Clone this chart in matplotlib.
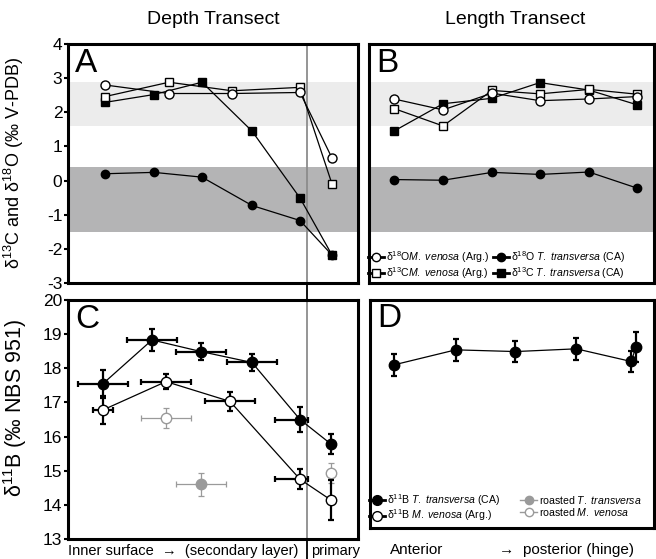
import matplotlib
matplotlib.use('Agg')
import matplotlib.pyplot as plt
from matplotlib.lines import Line2D

plt.rcParams['font.family'] = ['Liberation Sans', 'DejaVu Sans']
plt.rcParams['mathtext.fontset'] = 'custom'
plt.rcParams['mathtext.rm'] = 'Liberation Sans'
plt.rcParams['mathtext.it'] = 'Liberation Sans:italic'
plt.rcParams['axes.unicode_minus'] = False

# ---- panel A : depth transect, d18O / d13C ----
a_x_o18_mv = [37, 101, 164, 232, 264]
a_o18_mv = [2.80, 2.55, 2.55, 2.58, 0.66]
a_x_c13_mv = [37, 101, 164, 232, 264]
a_c13_mv = [2.46, 2.88, 2.63, 2.73, -0.10]
a_x_o18_tt = [37, 86, 134, 184, 232, 264]
a_o18_tt = [0.20, 0.24, 0.10, -0.73, -1.17, -2.18]
a_x_c13_tt = [37, 86, 134, 184, 232, 264]
a_c13_tt = [2.29, 2.52, 2.88, 1.45, -0.51, -2.18]
boundary_x = 239

# ---- panel B : length transect ----
b_x = [25, 74, 123, 171, 220, 268]
b_o18_mv = [2.39, 2.07, 2.56, 2.34, 2.39, 2.46]
b_c13_mv = [2.11, 1.60, 2.64, 2.54, 2.67, 2.53]
b_o18_tt = [0.03, 0.01, 0.24, 0.18, 0.25, -0.22]
b_c13_tt = [1.45, 2.25, 2.41, 2.87, 2.65, 2.22]

band_light = (1.6, 2.9)
band_dark = (-1.5, 0.4)

# ---- panel C : depth transect, d11B ----
c_x_tt = [35, 84, 133, 184, 232, 263]
c_tt = [17.55, 18.83, 18.49, 18.17, 16.50, 15.78]
c_tt_yerr = [0.41, 0.32, 0.26, 0.26, 0.38, 0.29]
c_tt_xerr_lo = [25, 25, 25, 25, 25, 3]
c_tt_xerr_hi = [25, 25, 25, 25, 8, 3]
c_x_mv = [35, 98, 162, 232, 263]
c_mv = [16.78, 17.61, 17.03, 14.75, 14.14]
c_mv_yerr = [0.41, 0.23, 0.29, 0.29, 0.59]
c_mv_xerr_lo = [10, 25, 25, 25, 0]
c_mv_xerr_hi = [10, 25, 25, 8, 0]
c_x_rtt = [133]
c_rtt = [14.60]
c_rtt_yerr = [0.34]
c_rtt_xerr = [25]
c_x_rmv = [98, 263]
c_rmv = [16.55, 14.93]
c_rmv_yerr = [0.30, 0.29]
c_rmv_xerr = [25, 4]

# ---- panel D : length transect, d11B ----
d_x = [24, 86, 146, 207, 262, 267]
d_tt = [18.10, 18.54, 18.49, 18.57, 18.20, 18.62]
d_tt_yerr = [0.33, 0.32, 0.32, 0.32, 0.30, 0.45]

legB_labels = ['δ$^{18}$O$\\mathit{M.\\ venosa}$ (Arg.)',
               'δ$^{13}$C$\\mathit{M.\\ venosa}$ (Arg.)',
               'δ$^{18}$O $\\mathit{T.\\ transversa}$ (CA)',
               'δ$^{13}$C $\\mathit{T.\\ transversa}$ (CA)']
legD_labels = ['δ$^{11}$B $\\mathit{T.\\ transversa}$ (CA)',
               'δ$^{11}$B $\\mathit{M.\\ venosa}$ (Arg.)',
               'roasted $\\mathit{T.\\ transversa}$',
               'roasted $\\mathit{M.\\ venosa}$']

fig = plt.figure(figsize=(6.56, 5.59), dpi=100)
W, H = 656.0, 559.0


def px_axes(l, t, r, b):
    return fig.add_axes([l / W, 1 - b / H, (r - l) / W, (b - t) / H])


axA = px_axes(68, 44, 358, 283)
axB = px_axes(369, 44, 654, 283)
axC = px_axes(68, 300, 358, 539)
axD = px_axes(370, 300, 654, 528)

for ax in (axA, axB, axC, axD):
    for s in ax.spines.values():
        s.set_linewidth(2.2)
    ax.set_xticks([])
    ax.set_xlim(0, 290 if ax in (axA, axC) else 285)

for ax in (axB, axD):
    ax.set_yticks([])
for ax in (axA, axC):
    ax.tick_params(axis='y', direction='out', length=3, width=1.5, labelsize=12.5, pad=1)

lw = 0.9
ms = 6

# A / B
for ax in (axA, axB):
    ax.set_ylim(-3, 4)
    ax.axhspan(*band_light, color='#ececec', lw=0, zorder=0)
    ax.axhspan(*band_dark, color='#b4b4b5', lw=0, zorder=0)

axA.set_yticks(range(-3, 5))
axA.axvline(boundary_x, color='#8c8c8c', lw=1.3, zorder=1)
axA.plot(a_x_o18_tt, a_o18_tt, '-o', color='k', mfc='k', mec='k', ms=ms, lw=lw, zorder=3)
axA.plot(a_x_c13_tt, a_c13_tt, '-s', color='k', mfc='k', mec='k', ms=ms - 0.5, lw=lw, zorder=4)
axA.plot(a_x_c13_mv, a_c13_mv, '-s', color='k', mfc='white', mec='k', ms=ms - 0.5, lw=lw, zorder=5)
axA.plot(a_x_o18_mv, a_o18_mv, '-o', color='k', mfc='white', mec='k', ms=ms + 0.5, lw=lw, zorder=6)

axB.plot(b_x, b_o18_mv, '-o', color='k', mfc='white', mec='k', ms=ms + 0.5, lw=lw, zorder=6)
axB.plot(b_x, b_c13_mv, '-s', color='k', mfc='white', mec='k', ms=ms - 0.5, lw=lw, zorder=5)
axB.plot(b_x, b_o18_tt, '-o', color='k', mfc='k', mec='k', ms=ms, lw=lw, zorder=3)
axB.plot(b_x, b_c13_tt, '-s', color='k', mfc='k', mec='k', ms=ms - 0.5, lw=lw, zorder=4)

lhB = [Line2D([], [], color='k', lw=2, marker=m, mfc=f, mec='k', ms=6)
       for m, f in (('o', 'white'), ('s', 'white'), ('o', 'k'), ('s', 'k'))]


def two_col_legend(ax, handles, labels, colsp, y0):
    ax.legend(handles, labels, ncol=2, loc='lower left', bbox_to_anchor=(-0.005, y0),
              frameon=False, fontsize=7.6, handlelength=1.6, handletextpad=0.15,
              labelspacing=0.0, columnspacing=colsp, borderaxespad=0, borderpad=0)


two_col_legend(axB, lhB, legB_labels, 0.3, 0.01)

# C / D
axC.set_ylim(13, 20)
axD.set_ylim(20 - 228 / 239 * 7, 20)
axC.set_yticks(range(13, 21))
axC.axvline(boundary_x, color='#8c8c8c', lw=1.3, zorder=1)

eb = dict(ecolor='k', elinewidth=1.6, capsize=2.5, capthick=1.6)
axC.errorbar(c_x_tt, c_tt, yerr=c_tt_yerr, xerr=[c_tt_xerr_lo, c_tt_xerr_hi],
             fmt='-o', color='k', mfc='k', mec='k', ms=7.5, lw=lw, zorder=4, **eb)
axC.errorbar(c_x_mv, c_mv, yerr=c_mv_yerr, xerr=[c_mv_xerr_lo, c_mv_xerr_hi],
             fmt='-o', color='k', mfc='white', mec='k', ms=7.5, lw=lw, zorder=5, **eb)
geb = dict(ecolor='#9a9a9a', elinewidth=0.9, capsize=2, capthick=0.9)
axC.errorbar(c_x_rtt, c_rtt, yerr=c_rtt_yerr, xerr=c_rtt_xerr, fmt='o',
             mfc='#9a9a9a', mec='#9a9a9a', ms=7.5, zorder=3, **geb)
axC.errorbar(c_x_rmv, c_rmv, yerr=c_rmv_yerr, xerr=c_rmv_xerr, fmt='o',
             mfc='white', mec='#9a9a9a', ms=7.5, zorder=3, **geb)

axD.errorbar(d_x, d_tt, yerr=d_tt_yerr, fmt='-o', color='k', mfc='k', mec='k',
             ms=7.5, lw=lw, zorder=4, **eb)

lhD = [Line2D([], [], color='k', lw=2, marker='o', mfc='k', mec='k', ms=7),
       Line2D([], [], color='k', lw=2, marker='o', mfc='white', mec='k', ms=7),
       Line2D([], [], color='#9a9a9a', lw=1, marker='o', mfc='#9a9a9a', mec='#9a9a9a', ms=6),
       Line2D([], [], color='#9a9a9a', lw=1, marker='o', mfc='white', mec='#9a9a9a', ms=6)]
two_col_legend(axD, lhD, legD_labels, 1.9, 0.02)

# panel letters
for ax, lab in ((axA, 'A'), (axB, 'B'), (axC, 'C'), (axD, 'D')):
    ax.text(0.025, 0.985, lab, transform=ax.transAxes, fontsize=24, va='top', ha='left')

# titles and axis labels
fig.text(213 / W, 1 - 19 / H, 'Depth Transect', ha='center', va='center', fontsize=14)
fig.text(515 / W, 1 - 19 / H, 'Length Transect', ha='center', va='center', fontsize=14)
fig.text(14 / W, 1 - 163 / H, 'δ$^{13}$C and δ$^{18}$O (‰ V-PDB)', rotation=90,
         ha='center', va='center', fontsize=13)
fig.text(15 / W, 1 - 408 / H, 'δ$^{11}$B (‰ NBS 951)', rotation=90,
         ha='center', va='center', fontsize=15.5)
fig.text(68 / W, 1 - 551 / H, 'Inner surface  →  (secondary layer)', ha='left',
         va='center', fontsize=10.5)
fig.text(311 / W, 1 - 551 / H, 'primary', ha='left', va='center', fontsize=10.5)
fig.text(390 / W, 1 - 550 / H, 'Anterior', ha='left', va='center', fontsize=11)
fig.text(507 / W, 1 - 550 / H, '→', ha='center', va='center', fontsize=11)
fig.text(523 / W, 1 - 550 / H, 'posterior (hinge)', ha='left', va='center', fontsize=11)

# black boundary line across the gaps
xl = 307 / W
fig.add_artist(Line2D([xl, xl], [1 - 300 / H, 1 - 283 / H], color='k', lw=1.3))
fig.add_artist(Line2D([xl, xl], [0, 1 - 539 / H], color='k', lw=1.3))

fig.savefig('out.png', dpi=100)
